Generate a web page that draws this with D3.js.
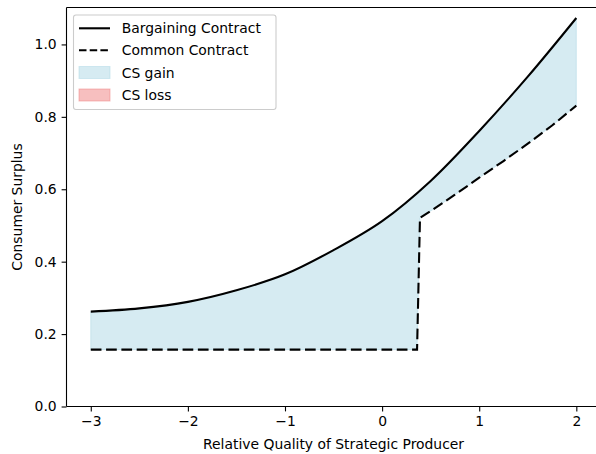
<!DOCTYPE html>
<html>
<head>
<meta charset="utf-8">
<script src="https://cdn.jsdelivr.net/npm/d3@7"></script>
<style>
  html, body { margin: 0; padding: 0; background: #fff; overflow: hidden; }
  svg { display: block; overflow: hidden; }
  text { font-family: "DejaVu Sans", sans-serif; }
</style>
</head>
<body>
<svg id="chart" width="596" height="454"></svg>
<script>
// ---- data ----
const bargainX = [-3, -2.5, -2, -1.5, -1, -0.5, 0, 0.5, 1, 1.5, 2];
const bargainY = [0.262, 0.271, 0.289, 0.321, 0.365, 0.432, 0.512, 0.623, 0.761, 0.911, 1.073];
const commonX = [-3, -2, -1, 0, 0.36, 0.39, 0.5, 0.75, 1, 1.25, 1.5, 1.75, 2];
const commonY = [0.157, 0.157, 0.157, 0.157, 0.157, 0.521, 0.540, 0.585, 0.632, 0.678, 0.726, 0.776, 0.831];
const xTicks = [-3, -2, -1, 0, 1, 2];
const yTicks = [0, 0.2, 0.4, 0.6, 0.8, 1.0];
const legendLabels = ["Bargaining Contract", "Common Contract", "CS gain", "CS loss"];
const xLabel = "Relative Quality of Strategic Producer";
const yLabel = "Consumer Surplus";

// ---- layout ----
const svg = d3.select("#chart");
const L = 66.5, R = 600.6, T = 7.5, B = 406.5;
const x = d3.scaleLinear().domain([-3.25, 2.25]).range([L, R]);
const y = d3.scaleLinear().domain([0, 1.102]).range([B, T]);

const bargain = bargainX.map((v, i) => [v, bargainY[i]]);
const common = commonX.map((v, i) => [v, commonY[i]]);

const lineCurve = d3.line().x(d => x(d[0])).y(d => y(d[1])).curve(d3.curveCatmullRom.alpha(0.5));
const lineLin = d3.line().x(d => x(d[0])).y(d => y(d[1]));

// fill between (CS gain)
const upper = lineCurve(bargain);
const lower = lineLin(common.slice().reverse());
svg.append("path")
  .attr("d", upper + "L" + lower.slice(1) + "Z")
  .attr("fill", "rgb(173,216,230)")
  .attr("fill-opacity", 0.5)
  .attr("stroke", "rgb(173,216,230)")
  .attr("stroke-opacity", 0.5)
  .attr("stroke-width", 1);

// lines
svg.append("path").attr("d", lineCurve(bargain))
  .attr("fill", "none").attr("stroke", "#000").attr("stroke-width", 2.1)
  .attr("stroke-linejoin", "round");
svg.append("path").attr("d", lineLin(common))
  .attr("fill", "none").attr("stroke", "#000").attr("stroke-width", 2.1)
  .attr("stroke-dasharray", "10.7,4.6");

// axes
const fs = 13.9;
const xAxis = svg.append("g").attr("transform", `translate(0,${B})`)
  .call(d3.axisBottom(x).tickValues(xTicks).tickSizeInner(4.9).tickSizeOuter(0).tickPadding(4.9)
    .tickFormat(d => d3.format("d")(d).replace("-", "\u2212")));
const yAxis = svg.append("g").attr("transform", `translate(${L},0)`)
  .call(d3.axisLeft(y).tickValues(yTicks).tickSizeInner(4.9).tickSizeOuter(0).tickPadding(4.9)
    .tickFormat(d3.format(".1f")));
[xAxis, yAxis].forEach(g => {
  g.select(".domain").remove();
  g.selectAll(".tick line").attr("stroke", "#000").attr("stroke-width", 1.1);
  g.selectAll(".tick text").attr("font-size", fs).attr("fill", "#000")
    .attr("font-family", "DejaVu Sans, sans-serif");
});

// spines (right spine lies outside the cropped figure)
const sp = svg.append("g").attr("stroke", "#000").attr("stroke-width", 1.1);
sp.append("line").attr("x1", L).attr("x2", L).attr("y1", T).attr("y2", B);
sp.append("line").attr("x1", L).attr("x2", 596).attr("y1", B).attr("y2", B);
sp.append("line").attr("x1", L).attr("x2", 596).attr("y1", T).attr("y2", T);

// axis labels
svg.append("text").attr("x", (L + R) / 2).attr("y", 449)
  .attr("text-anchor", "middle").attr("font-size", fs).text(xLabel);
svg.append("text").attr("transform", `translate(22,${(T + B) / 2}) rotate(-90)`)
  .attr("text-anchor", "middle").attr("font-size", fs).text(yLabel);

// legend
const lg = svg.append("g");
lg.append("rect").attr("x", 73.5).attr("y", 15).attr("width", 202.5).attr("height", 94.5)
  .attr("rx", 2.5).attr("fill", "#fff").attr("fill-opacity", 0.8)
  .attr("stroke", "#cccccc").attr("stroke-width", 1.1);
const rowY = [28.3, 50.3, 72.5, 95];
const hx0 = 79, hx1 = 110;
legendLabels.forEach((lab, i) => {
  const cy = rowY[i];
  if (i === 0) {
    lg.append("line").attr("x1", hx0).attr("x2", hx1).attr("y1", cy).attr("y2", cy)
      .attr("stroke", "#000").attr("stroke-width", 2.1);
  } else if (i === 1) {
    lg.append("line").attr("x1", hx0).attr("x2", hx1).attr("y1", cy).attr("y2", cy)
      .attr("stroke", "#000").attr("stroke-width", 2.1).attr("stroke-dasharray", "7.5,3.2");
  } else {
    const col = i === 2 ? "rgb(173,216,230)" : "rgb(240,128,128)";
    lg.append("rect").attr("x", hx0).attr("y", cy - 6).attr("width", hx1 - hx0).attr("height", 12)
      .attr("fill", col).attr("fill-opacity", 0.5).attr("stroke", col).attr("stroke-opacity", 0.5);
  }
  lg.append("text").attr("x", 121.7).attr("y", cy).attr("dy", "0.36em")
    .attr("font-size", fs).text(lab);
});
</script>
</body>
</html>
